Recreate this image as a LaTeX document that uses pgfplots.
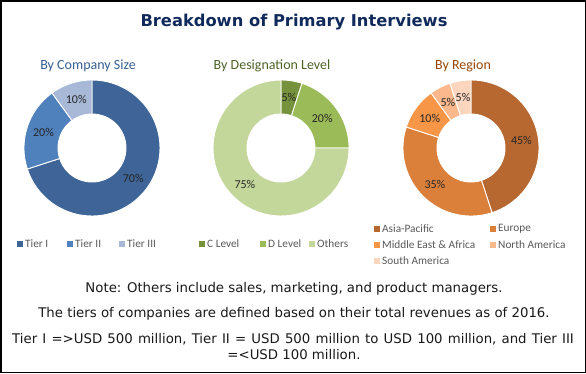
\documentclass[border=0pt]{standalone}
\usepackage{fontspec}
\setmainfont{Carlito}
\newfontfamily\dejavu{DejaVu Sans}
\usepackage{pgfplots}
\usepackage{pgfplotstable}
\pgfplotsset{compat=1.18}

\definecolor{titleblue}{RGB}{16,42,92}
\definecolor{subA}{RGB}{55,96,146}
\definecolor{subB}{RGB}{79,98,40}
\definecolor{subC}{RGB}{151,71,6}
\definecolor{legtxt}{RGB}{89,89,89}

\definecolor{cA0}{RGB}{63,101,152}
\definecolor{cA1}{RGB}{79,129,189}
\definecolor{cA2}{RGB}{167,185,215}
\definecolor{cB0}{RGB}{118,146,60}
\definecolor{cB1}{RGB}{155,187,89}
\definecolor{cB2}{RGB}{196,215,155}
\definecolor{cC0}{RGB}{182,104,48}
\definecolor{cC1}{RGB}{218,128,58}
\definecolor{cC2}{RGB}{247,150,70}
\definecolor{cC3}{RGB}{250,184,140}
\definecolor{cC4}{RGB}{252,213,190}

\pgfplotstableread{
label value
TierI 70
TierII 20
TierIII 10
}\tblA
\pgfplotstableread{
label value
CLevel 5
DLevel 20
Others 75
}\tblB
\pgfplotstableread{
label value
AsiaPacific 45
Europe 35
MEA 10
NorthAmerica 5
SouthAmerica 5
}\tblC

\tikzset{lbl/.style={font=\fontsize{12}{14}\selectfont, text=black!85, inner sep=0pt}}
\pgfplotsset{donut/.style={hide axis, scale only axis, width=136pt, height=136pt,
  xmin=-1, xmax=1, ymin=-1, ymax=1, anchor=center, clip=false}}

\newcommand{\donut}[2]{%
  \pgfplotstablegetrowsof{#1}%
  \pgfmathtruncatemacro\N{\pgfplotsretval-1}%
  \gdef\cum{0}%
  \pgfplotsforeachungrouped \i in {0,...,\N}{%
    \pgfplotstablegetelem{\i}{value}\of{#1}%
    \let\v\pgfplotsretval
    \pgfmathsetmacro\aS{90-3.6*\cum}%
    \pgfmathsetmacro\aE{90-3.6*(\cum+\v)}%
    \pgfmathsetmacro\aM{(\aS+\aE)/2}%
    \pgfmathsetmacro\lx{0.75*cos(\aM)}%
    \pgfmathsetmacro\ly{0.75*sin(\aM)}%
    \pgfmathsetmacro\newcum{\cum+\v}%
    \global\let\cum\newcum
    \edef\cmd{%
      \noexpand\addplot[fill=#2\i, draw=white, line width=0.9pt, domain=\aE:\aS, samples=60, variable=\noexpand\t]
        ({cos(\noexpand\t)},{sin(\noexpand\t)}) -- (axis cs:0,0) -- cycle;
      \noexpand\node[lbl] at (axis cs:\lx,\ly) {\v\noexpand\%};
    }%
    \cmd
  }%
  \addplot[fill=white, draw=white, line width=0.9pt, domain=0:360, samples=90, variable=\t] ({0.5*cos(\t)},{0.5*sin(\t)}) -- cycle;
}

\newcommand{\legsq}[4]{% x y color text
  \fill[#3] (#1pt-3.3pt,-#2pt-3.3pt) rectangle (#1pt+3.3pt,-#2pt+3.3pt);
  \node[anchor=west, inner sep=0pt, font=\fontsize{11.3}{13}\selectfont, text=legtxt] at (#1pt+5pt,-#2pt) {#4};
}

\begin{document}
\begin{tikzpicture}
\useasboundingbox (0,0) rectangle (586pt,-373pt);
\fill[white] (0,0) rectangle (586pt,-373pt);

\node[font=\dejavu\bfseries\fontsize{16.3}{19}\selectfont, text=titleblue] at (294pt,-22pt) {Breakdown of Primary Interviews};

\node[font=\fontsize{14}{16}\selectfont, text=subA] at (88pt,-66pt) {By Company Size};
\node[font=\fontsize{14}{16}\selectfont, text=subB] at (272pt,-66pt) {By Designation Level};
\node[font=\fontsize{14}{16}\selectfont, text=subC] at (463pt,-66pt) {By Region};

\begin{axis}[donut, at={(92pt,-148pt)}]
\donut{\tblA}{cA}
\end{axis}
\begin{axis}[donut, at={(281pt,-148pt)}]
\donut{\tblB}{cB}
\end{axis}
\begin{axis}[donut, at={(471pt,-148pt)}]
\donut{\tblC}{cC}
\end{axis}

\legsq{20}{244}{cA0}{Tier I}
\legsq{70}{244}{cA1}{Tier II}
\legsq{122}{244}{cA2}{Tier III}

\legsq{202}{244}{cB0}{C Level}
\legsq{263}{244}{cB1}{D Level}
\legsq{312}{244}{cB2}{Others}

\legsq{377}{229}{cC0}{Asia-Pacific}
\legsq{493}{229}{cC1}{Europe}
\legsq{377}{245}{cC2}{Middle East \& Africa}
\legsq{493}{245}{cC3}{North America}
\legsq{377}{261}{cC4}{South America}

\begin{scope}[every node/.style={font=\dejavu\fontsize{13.3}{15}\selectfont, text=black!90, inner sep=0pt}]
\node at (294pt,-289pt) {Note: Others include sales, marketing, and product managers.};
\node at (294pt,-314pt) {The tiers of companies are defined based on their total revenues as of 2016.};
\node at (293pt,-339pt) {\spaceskip=5.2pt Tier I =>USD 500 million, Tier II = USD 500 million to USD 100 million, and Tier III};
\node at (294pt,-355pt) {=<USD 100 million.};
\end{scope}

\draw[black, line width=1.5pt] (0.75pt,-0.75pt) rectangle (585.25pt,-372.25pt);
\end{tikzpicture}
\end{document}
